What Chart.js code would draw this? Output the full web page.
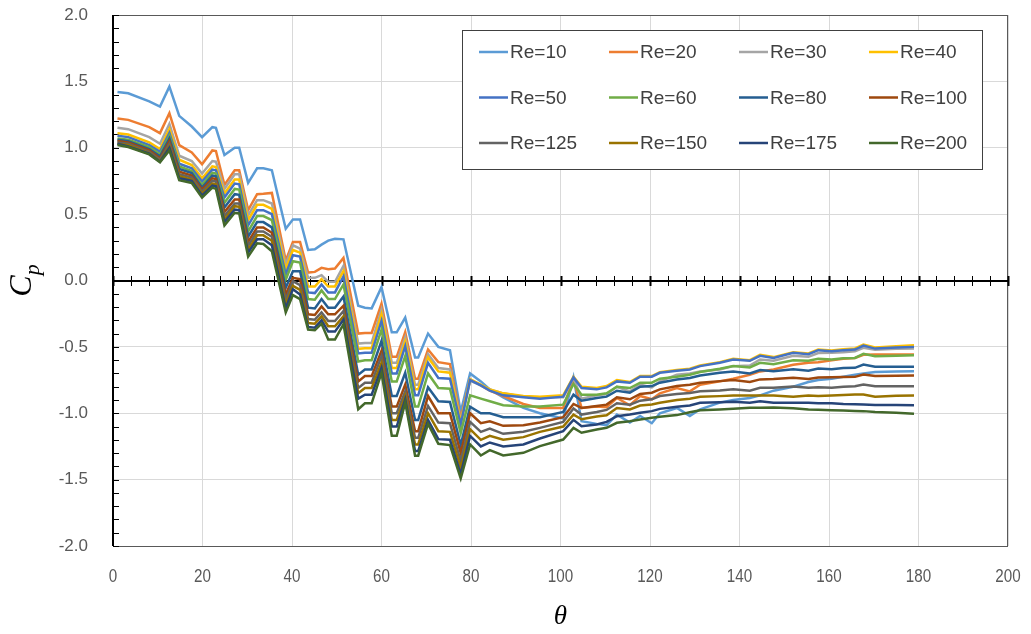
<!DOCTYPE html>
<html>
<head>
<meta charset="utf-8">
<script src="https://cdn.jsdelivr.net/npm/chart.js@4.4.1/dist/chart.umd.min.js"></script>
<style>
  html, body { margin: 0; padding: 0; background: #fff; }
  #wrap { position: relative; width: 1031px; height: 634px; }
</style>
</head>
<body>
<div id="wrap"><canvas id="cp-chart" width="1031" height="634"></canvas></div>
<script>
(function () {
  "use strict";

  // angle along the surface (deg)
  var theta = [
    1.0, 3.4, 8.1, 10.5, 12.6, 14.8, 17.6, 19.9, 22.2, 23.0,
    24.9, 27.2, 28.2, 30.2, 32.2, 33.6, 35.5, 38.6, 40.2, 41.8,
    43.6, 45.1, 46.6, 48.1, 49.6, 51.5, 54.8, 56.3, 57.8, 60.0,
    62.3, 63.4, 65.3, 67.5, 68.2, 70.4, 72.7, 75.3, 77.7,
    79.8, 82.2, 84.2, 87.2, 91.7, 95.4, 100.6, 102.9, 104.7, 108.1,
    110.3, 112.6, 115.5, 117.8, 120.4, 122.2, 126.0, 128.9, 131.2, 135.6,
    138.6, 142.3, 144.6, 147.6, 152.0, 155.4, 157.6, 160.6, 163.2, 165.8,
    167.7, 170.3, 175.0, 179.0
  ];

  var xTicks = [0, 20, 40, 60, 80, 100, 120, 140, 160, 180, 200];

  var cpRe10 = [
    1.42, 1.41, 1.35, 1.31, 1.46, 1.24, 1.16, 1.08, 1.155, 1.15,
    0.945, 1.0, 1.0, 0.735, 0.845, 0.845, 0.83, 0.39, 0.46, 0.46,
    0.23, 0.235, 0.27, 0.30, 0.315, 0.31, -0.19, -0.205, -0.21, -0.05,
    -0.39, -0.39, -0.28, -0.58, -0.58, -0.40, -0.50, -0.525, -0.99,
    -0.70, -0.76, -0.82, -0.88, -0.96, -1.0, -1.04, -0.73, -1.06, -1.08,
    -1.09, -1.01, -1.07, -1.02, -1.075, -1.0, -0.96, -1.02, -0.97, -0.92,
    -0.90, -0.885, -0.865, -0.83, -0.80, -0.765, -0.75, -0.74, -0.725, -0.71,
    -0.70, -0.69, -0.685, -0.683
  ];
  var cpRe20 = [
    1.22, 1.21, 1.155, 1.11, 1.26, 1.02, 0.965, 0.875, 0.98, 0.975,
    0.72, 0.83, 0.83, 0.53, 0.65, 0.653, 0.66, 0.15, 0.29, 0.29,
    0.06, 0.065, 0.095, 0.085, 0.09, 0.17, -0.40, -0.395, -0.395, -0.175,
    -0.575, -0.575, -0.39, -0.74, -0.74, -0.52, -0.615, -0.63, -1.04,
    -0.745, -0.79, -0.83, -0.87, -0.93, -0.96, -0.96, -0.74, -0.96, -0.95,
    -0.955, -0.885, -0.94, -0.87, -0.895, -0.85, -0.81, -0.835, -0.785, -0.76,
    -0.74, -0.71, -0.685, -0.67, -0.635, -0.62, -0.615, -0.60, -0.59, -0.583,
    -0.56, -0.557, -0.557, -0.557
  ];
  var cpRe30 = [
    1.15, 1.14, 1.08, 1.03, 1.18, 0.94, 0.90, 0.805, 0.90, 0.895,
    0.69, 0.80, 0.80, 0.49, 0.605, 0.605, 0.58, 0.12, 0.265, 0.24,
    0.02, 0.02, 0.04, -0.01, -0.01, 0.11, -0.475, -0.47, -0.47, -0.22,
    -0.62, -0.62, -0.43, -0.785, -0.785, -0.555, -0.66, -0.67, -1.06,
    -0.755, -0.79, -0.82, -0.85, -0.875, -0.88, -0.88, -0.735, -0.89, -0.865,
    -0.855, -0.80, -0.835, -0.785, -0.805, -0.76, -0.71, -0.70, -0.685, -0.67,
    -0.645, -0.64, -0.595, -0.605, -0.567, -0.575, -0.547, -0.545, -0.54, -0.533,
    -0.507, -0.522, -0.515, -0.512
  ];
  var cpRe40 = [
    1.11, 1.10, 1.04, 0.99, 1.14, 0.91, 0.87, 0.77, 0.86, 0.855,
    0.655, 0.76, 0.76, 0.455, 0.57, 0.57, 0.54, 0.085, 0.23, 0.21,
    -0.045, -0.045, 0.01, -0.045, -0.045, 0.07, -0.515, -0.51, -0.51, -0.255,
    -0.66, -0.66, -0.46, -0.82, -0.82, -0.58, -0.685, -0.695, -1.07,
    -0.745, -0.785, -0.82, -0.85, -0.87, -0.875, -0.865, -0.725, -0.80, -0.81,
    -0.795, -0.75, -0.765, -0.72, -0.72, -0.69, -0.675, -0.665, -0.64, -0.615,
    -0.59, -0.60, -0.56, -0.577, -0.54, -0.55, -0.52, -0.527, -0.518, -0.512,
    -0.482, -0.505, -0.495, -0.487
  ];
  var cpRe50 = [
    1.09, 1.08, 1.02, 0.97, 1.11, 0.88, 0.845, 0.745, 0.835, 0.83,
    0.625, 0.73, 0.725, 0.415, 0.53, 0.53, 0.50, 0.045, 0.19, 0.18,
    -0.09, -0.095, -0.03, -0.09, -0.09, 0.03, -0.55, -0.545, -0.545, -0.305,
    -0.70, -0.70, -0.495, -0.865, -0.865, -0.62, -0.735, -0.74, -1.085,
    -0.75, -0.79, -0.83, -0.865, -0.88, -0.89, -0.875, -0.73, -0.81, -0.82,
    -0.805, -0.76, -0.77, -0.725, -0.725, -0.695, -0.68, -0.67, -0.645, -0.62,
    -0.595, -0.605, -0.567, -0.583, -0.545, -0.555, -0.525, -0.533, -0.525, -0.52,
    -0.49, -0.513, -0.505, -0.50
  ];
  var cpRe60 = [
    1.07, 1.06, 1.005, 0.95, 1.09, 0.86, 0.825, 0.72, 0.81, 0.805,
    0.585, 0.69, 0.685, 0.37, 0.485, 0.485, 0.455, 0.005, 0.145, 0.135,
    -0.14, -0.145, -0.075, -0.14, -0.14, -0.03, -0.61, -0.60, -0.60, -0.37,
    -0.76, -0.76, -0.57, -0.95, -0.95, -0.70, -0.81, -0.815, -1.15,
    -0.865, -0.89, -0.91, -0.94, -0.95, -0.95, -0.935, -0.78, -0.86, -0.86,
    -0.85, -0.80, -0.81, -0.77, -0.77, -0.74, -0.725, -0.71, -0.69, -0.665,
    -0.645, -0.655, -0.62, -0.63, -0.60, -0.605, -0.59, -0.595, -0.585, -0.583,
    -0.552, -0.57, -0.566, -0.563
  ];
  var cpRe80 = [
    1.06, 1.05, 0.99, 0.935, 1.07, 0.84, 0.81, 0.70, 0.79, 0.785,
    0.55, 0.65, 0.645, 0.33, 0.44, 0.44, 0.40, -0.055, 0.07, 0.07,
    -0.205, -0.21, -0.14, -0.205, -0.205, -0.12, -0.71, -0.67, -0.67, -0.455,
    -0.87, -0.87, -0.695, -1.05, -1.05, -0.805, -0.91, -0.915, -1.24,
    -0.95, -1.0, -1.0, -1.03, -1.03, -1.03, -0.99, -0.86, -0.905, -0.885,
    -0.875, -0.83, -0.845, -0.80, -0.795, -0.77, -0.745, -0.735, -0.715, -0.695,
    -0.685, -0.70, -0.675, -0.683, -0.668, -0.68, -0.663, -0.668, -0.66, -0.658,
    -0.633, -0.65, -0.65, -0.65
  ];
  var cpRe100 = [
    1.05, 1.04, 0.98, 0.92, 1.05, 0.82, 0.79, 0.685, 0.77, 0.765,
    0.515, 0.61, 0.61, 0.29, 0.40, 0.40, 0.36, -0.105, 0.02, 0.01,
    -0.255, -0.26, -0.195, -0.255, -0.255, -0.19, -0.76, -0.72, -0.72, -0.53,
    -0.95, -0.95, -0.785, -1.135, -1.135, -0.87, -1.0, -1.0, -1.30,
    -1.0, -1.075, -1.06, -1.095, -1.09, -1.07, -1.03, -0.93, -0.96, -0.945,
    -0.935, -0.88, -0.895, -0.855, -0.845, -0.82, -0.795, -0.785, -0.77, -0.758,
    -0.75, -0.765, -0.745, -0.742, -0.733, -0.742, -0.73, -0.728, -0.727, -0.726,
    -0.708, -0.72, -0.717, -0.716
  ];
  var cpRe125 = [
    1.04, 1.03, 0.97, 0.91, 1.03, 0.80, 0.775, 0.67, 0.75, 0.745,
    0.485, 0.58, 0.58, 0.26, 0.37, 0.37, 0.33, -0.145, -0.005, -0.035,
    -0.29, -0.295, -0.24, -0.305, -0.305, -0.23, -0.81, -0.77, -0.77, -0.57,
    -1.0, -1.0, -0.835, -1.185, -1.185, -0.945, -1.07, -1.075, -1.36,
    -1.065, -1.14, -1.115, -1.155, -1.14, -1.11, -1.065, -0.965, -1.01, -0.99,
    -0.975, -0.925, -0.935, -0.905, -0.895, -0.87, -0.855, -0.848, -0.835, -0.828,
    -0.82, -0.83, -0.808, -0.808, -0.798, -0.808, -0.805, -0.808, -0.80, -0.796,
    -0.783, -0.796, -0.796, -0.796
  ];
  var cpRe150 = [
    1.03, 1.02, 0.96, 0.90, 1.01, 0.785, 0.76, 0.655, 0.73, 0.725,
    0.46, 0.56, 0.555, 0.23, 0.34, 0.34, 0.30, -0.18, -0.04, -0.07,
    -0.32, -0.325, -0.27, -0.345, -0.345, -0.27, -0.85, -0.81, -0.81, -0.62,
    -1.05, -1.05, -0.87, -1.235, -1.235, -1.0, -1.135, -1.14, -1.41,
    -1.12, -1.2, -1.17, -1.2, -1.18, -1.14, -1.1, -1.01, -1.045, -1.025,
    -1.015, -0.96, -0.972, -0.942, -0.934, -0.921, -0.90, -0.891, -0.876, -0.871,
    -0.866, -0.866, -0.866, -0.866, -0.876, -0.866, -0.87, -0.866, -0.862, -0.859,
    -0.859, -0.876, -0.868, -0.866
  ];
  var cpRe175 = [
    1.03, 1.01, 0.955, 0.895, 1.0, 0.77, 0.75, 0.64, 0.715, 0.71,
    0.44, 0.535, 0.53, 0.21, 0.31, 0.31, 0.265, -0.21, -0.065, -0.105,
    -0.35, -0.355, -0.30, -0.385, -0.385, -0.295, -0.89, -0.86, -0.86, -0.66,
    -1.10, -1.10, -0.895, -1.285, -1.285, -1.05, -1.195, -1.2, -1.46,
    -1.17, -1.25, -1.22, -1.25, -1.235, -1.19, -1.135, -1.05, -1.098, -1.085,
    -1.065, -1.022, -1.01, -0.997, -0.984, -0.967, -0.951, -0.942, -0.921, -0.917,
    -0.913, -0.921, -0.909, -0.92, -0.921, -0.921, -0.925, -0.925, -0.93, -0.933,
    -0.935, -0.937, -0.938, -0.939
  ];
  var cpRe200 = [
    1.02, 1.005, 0.95, 0.89, 0.98, 0.755, 0.735, 0.625, 0.70, 0.69,
    0.415, 0.51, 0.505, 0.18, 0.28, 0.275, 0.22, -0.24, -0.11, -0.14,
    -0.37, -0.375, -0.325, -0.445, -0.445, -0.33, -0.97, -0.925, -0.925, -0.695,
    -1.17, -1.17, -0.92, -1.32, -1.32, -1.08, -1.23, -1.24, -1.49,
    -1.235, -1.318, -1.278, -1.318, -1.298, -1.248, -1.198, -1.11, -1.147, -1.122,
    -1.11, -1.072, -1.06, -1.047, -1.034, -1.027, -1.014, -0.992, -0.977, -0.972,
    -0.967, -0.959, -0.959, -0.957, -0.962, -0.972, -0.974, -0.977, -0.98, -0.983,
    -0.984, -0.99, -0.997, -1.004
  ];

  var reLabels = ["Re=10", "Re=20", "Re=30", "Re=40", "Re=50", "Re=60",
                  "Re=80", "Re=100", "Re=125", "Re=150", "Re=175", "Re=200"];
  var series = [cpRe10, cpRe20, cpRe30, cpRe40, cpRe50, cpRe60,
                cpRe80, cpRe100, cpRe125, cpRe150, cpRe175, cpRe200];
  var colors = ["#5B9BD5", "#ED7D31", "#A5A5A5", "#FFC000", "#4472C4", "#70AD47",
                "#255E91", "#9E480E", "#636363", "#997300", "#264478", "#43682B"];

  var TEXT = "#595959";
  var tickFontY = { family: "'Liberation Sans', Arial, sans-serif", size: 17 };

  function toPoints(values) {
    return values.map(function (v, i) {
      return { x: theta[i], y: v };
    });
  }

  // frame, zero line with its crossing ticks, minor ticks on the left axis
  var axesPlugin = {
    id: "cpAxes",
    beforeDatasetsDraw: function (chart) {
      var ctx = chart.ctx;
      var a = chart.chartArea;
      var xs = chart.scales.x;
      var ys = chart.scales.y;
      ctx.save();
      ctx.strokeStyle = "#595959";
      ctx.lineWidth = 1;
      ctx.strokeRect(a.left + 0.5, a.top + 0.5, a.right - a.left - 1, a.bottom - a.top);

      var y0 = Math.round(ys.getPixelForValue(0));
      ctx.strokeStyle = "#000";
      ctx.lineWidth = 2;
      ctx.beginPath();
      ctx.moveTo(a.left, y0);
      ctx.lineTo(a.right, y0);
      ctx.stroke();
      for (var t = 0; t <= 200; t += 4) {
        var px = Math.round(xs.getPixelForValue(t)) + 0.5;
        ctx.lineWidth = t % 20 === 0 ? 2 : 1;
        ctx.beginPath();
        ctx.moveTo(px, y0 - 5);
        ctx.lineTo(px, y0 + 5);
        ctx.stroke();
      }

      ctx.lineWidth = 2;
      ctx.beginPath();
      ctx.moveTo(a.left, a.top);
      ctx.lineTo(a.left, a.bottom);
      ctx.stroke();
      ctx.lineWidth = 1;
      for (var k = -20; k <= 20; k++) {
        var py = Math.round(ys.getPixelForValue(k / 10)) + 0.5;
        ctx.beginPath();
        ctx.moveTo(a.left, py);
        ctx.lineTo(a.left + 6, py);
        ctx.stroke();
      }
      ctx.restore();
    }
  };

  // condensed tick labels under the bottom edge
  var xLabelPlugin = {
    id: "cpXLabels",
    afterDraw: function (chart) {
      var ctx = chart.ctx;
      var xs = chart.scales.x;
      var a = chart.chartArea;
      ctx.save();
      ctx.fillStyle = TEXT;
      ctx.font = "19px 'Liberation Sans', Arial, sans-serif";
      ctx.textAlign = "center";
      ctx.textBaseline = "middle";
      xTicks.forEach(function (v) {
        ctx.save();
        ctx.translate(xs.getPixelForValue(v), a.bottom + 31);
        ctx.scale(0.8, 1);
        ctx.fillText(String(v), 0, 0);
        ctx.restore();
      });
      ctx.restore();
    }
  };

  // boxed legend, 4 columns by 3 rows, inside the plot area
  var legendPlugin = {
    id: "cpLegend",
    afterDraw: function (chart) {
      var ctx = chart.ctx;
      var bx = 462, by = 30, bw = 520, bh = 139;
      ctx.save();
      ctx.fillStyle = "#fff";
      ctx.fillRect(bx, by, bw, bh);
      ctx.strokeStyle = "#404040";
      ctx.lineWidth = 1;
      ctx.strokeRect(bx + 0.5, by + 0.5, bw, bh);
      ctx.font = "19px 'Liberation Sans', Arial, sans-serif";
      ctx.textBaseline = "middle";
      ctx.textAlign = "left";
      chart.data.datasets.forEach(function (ds, i) {
        var col = i % 4;
        var row = Math.floor(i / 4);
        var lx = 479 + col * 130;
        var ly = 52 + row * 45.5;
        ctx.strokeStyle = ds.borderColor;
        ctx.lineWidth = 2.5;
        ctx.beginPath();
        ctx.moveTo(lx, ly);
        ctx.lineTo(lx + 29, ly);
        ctx.stroke();
        ctx.fillStyle = "#404040";
        ctx.fillText(ds.label, lx + 31, ly + 1);
      });
      ctx.restore();
    }
  };

  // axis titles: theta below, C_p rotated on the left
  var titlePlugin = {
    id: "cpTitles",
    afterDraw: function (chart) {
      var ctx = chart.ctx;
      var a = chart.chartArea;
      ctx.save();
      ctx.fillStyle = "#000";
      ctx.textAlign = "center";
      ctx.textBaseline = "middle";
      ctx.font = "italic 27px 'Liberation Serif', 'DejaVu Serif', serif";
      ctx.fillText("\u03b8", (a.left + a.right) / 2, 617);

      ctx.translate(26, (a.top + a.bottom) / 2);
      ctx.rotate(-Math.PI / 2);
      ctx.textAlign = "left";
      ctx.font = "italic 32px 'Liberation Serif', 'DejaVu Serif', serif";
      var wc = ctx.measureText("C").width;
      ctx.font = "italic 22px 'Liberation Serif', 'DejaVu Serif', serif";
      var wp = ctx.measureText("p").width;
      var x0 = -(wc + wp) / 2;
      ctx.font = "italic 32px 'Liberation Serif', 'DejaVu Serif', serif";
      ctx.fillText("C", x0, -3);
      ctx.font = "italic 22px 'Liberation Serif', 'DejaVu Serif', serif";
      ctx.fillText("p", x0 + wc, 7);
      ctx.restore();
    }
  };

  function initChart() {
    var canvas = document.getElementById("cp-chart");
    if (!canvas || !window.Chart) {
      return;
    }
    var datasets = series.map(function (values, i) {
      return {
        label: reLabels[i],
        data: toPoints(values),
        borderColor: colors[i],
        backgroundColor: colors[i],
        borderWidth: 2.5,
        showLine: true,
        pointRadius: 0,
        tension: 0,
        order: series.length - 1 - i
      };
    });

    new Chart(canvas, {
      type: "scatter",
      data: { datasets: datasets },
      options: {
        responsive: false,
        animation: false,
        layout: { padding: { top: 15, right: 23, bottom: 0, left: 0 } },
        plugins: {
          legend: { display: false },
          tooltip: { enabled: false }
        },
        scales: {
          x: {
            type: "linear",
            min: 0,
            max: 200,
            afterFit: function (s) {
              s.height = 88;
              s.paddingLeft = 0;
              s.paddingRight = 0;
            },
            ticks: { stepSize: 20, display: false },
            grid: { color: "#d9d9d9", drawTicks: false },
            border: { display: false }
          },
          y: {
            min: -2,
            max: 2,
            afterFit: function (s) {
              s.width = 113;
              s.paddingTop = 0;
              s.paddingBottom = 0;
            },
            ticks: {
              stepSize: 0.5,
              padding: 25,
              color: TEXT,
              font: tickFontY,
              callback: function (v) { return Number(v).toFixed(1); }
            },
            grid: { color: "#d9d9d9", drawTicks: false },
            border: { display: false }
          }
        }
      },
      plugins: [axesPlugin, xLabelPlugin, legendPlugin, titlePlugin]
    });
  }

  document.addEventListener("DOMContentLoaded", initChart);
})();
</script>
</body>
</html>
